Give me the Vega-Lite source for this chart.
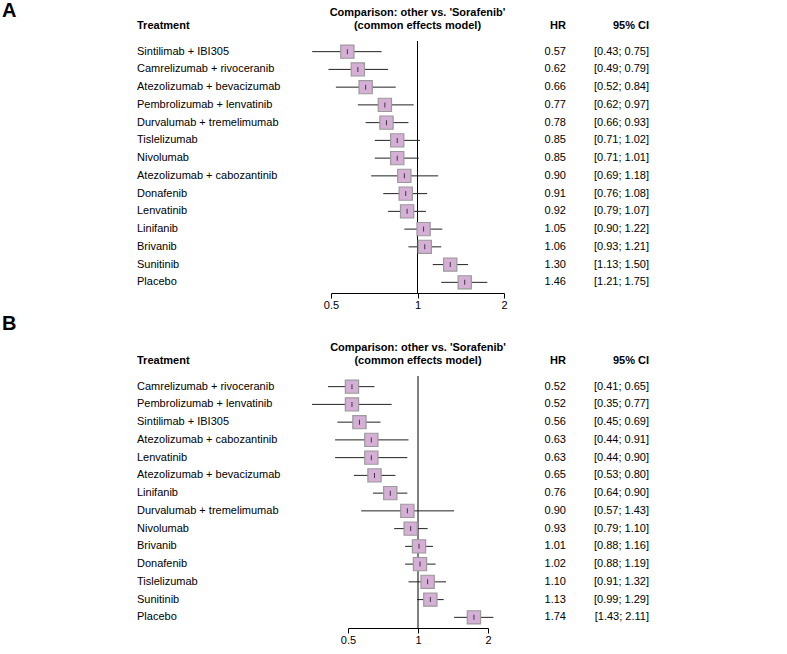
{
  "$schema": "https://vega.github.io/schema/vega-lite/v6.json",
  "padding": {"left": 2, "top": 1, "right": 0, "bottom": 0},
  "background": "white",
  "datasets": {
    "a": [
      {"trt": "Sintilimab + IBI305", "hr": 0.57, "lo": 0.43, "hi": 0.75, "ci": "[0.43; 0.75]"},
      {"trt": "Camrelizumab + rivoceranib", "hr": 0.62, "lo": 0.49, "hi": 0.79, "ci": "[0.49; 0.79]"},
      {"trt": "Atezolizumab + bevacizumab", "hr": 0.66, "lo": 0.52, "hi": 0.84, "ci": "[0.52; 0.84]"},
      {"trt": "Pembrolizumab + lenvatinib", "hr": 0.77, "lo": 0.62, "hi": 0.97, "ci": "[0.62; 0.97]"},
      {"trt": "Durvalumab + tremelimumab", "hr": 0.78, "lo": 0.66, "hi": 0.93, "ci": "[0.66; 0.93]"},
      {"trt": "Tislelizumab", "hr": 0.85, "lo": 0.71, "hi": 1.02, "ci": "[0.71; 1.02]"},
      {"trt": "Nivolumab", "hr": 0.85, "lo": 0.71, "hi": 1.01, "ci": "[0.71; 1.01]"},
      {"trt": "Atezolizumab + cabozantinib", "hr": 0.90, "lo": 0.69, "hi": 1.18, "ci": "[0.69; 1.18]"},
      {"trt": "Donafenib", "hr": 0.91, "lo": 0.76, "hi": 1.08, "ci": "[0.76; 1.08]"},
      {"trt": "Lenvatinib", "hr": 0.92, "lo": 0.79, "hi": 1.07, "ci": "[0.79; 1.07]"},
      {"trt": "Linifanib", "hr": 1.05, "lo": 0.90, "hi": 1.22, "ci": "[0.90; 1.22]"},
      {"trt": "Brivanib", "hr": 1.06, "lo": 0.93, "hi": 1.21, "ci": "[0.93; 1.21]"},
      {"trt": "Sunitinib", "hr": 1.30, "lo": 1.13, "hi": 1.50, "ci": "[1.13; 1.50]"},
      {"trt": "Placebo", "hr": 1.46, "lo": 1.21, "hi": 1.75, "ci": "[1.21; 1.75]"}
    ],
    "b": [
      {"trt": "Camrelizumab + rivoceranib", "hr": 0.52, "lo": 0.41, "hi": 0.65, "ci": "[0.41; 0.65]"},
      {"trt": "Pembrolizumab + lenvatinib", "hr": 0.52, "lo": 0.35, "hi": 0.77, "ci": "[0.35; 0.77]"},
      {"trt": "Sintilimab + IBI305", "hr": 0.56, "lo": 0.45, "hi": 0.69, "ci": "[0.45; 0.69]"},
      {"trt": "Atezolizumab + cabozantinib", "hr": 0.63, "lo": 0.44, "hi": 0.91, "ci": "[0.44; 0.91]"},
      {"trt": "Lenvatinib", "hr": 0.63, "lo": 0.44, "hi": 0.90, "ci": "[0.44; 0.90]"},
      {"trt": "Atezolizumab + bevacizumab", "hr": 0.65, "lo": 0.53, "hi": 0.80, "ci": "[0.53; 0.80]"},
      {"trt": "Linifanib", "hr": 0.76, "lo": 0.64, "hi": 0.90, "ci": "[0.64; 0.90]"},
      {"trt": "Durvalumab + tremelimumab", "hr": 0.90, "lo": 0.57, "hi": 1.43, "ci": "[0.57; 1.43]"},
      {"trt": "Nivolumab", "hr": 0.93, "lo": 0.79, "hi": 1.10, "ci": "[0.79; 1.10]"},
      {"trt": "Brivanib", "hr": 1.01, "lo": 0.88, "hi": 1.16, "ci": "[0.88; 1.16]"},
      {"trt": "Donafenib", "hr": 1.02, "lo": 0.88, "hi": 1.19, "ci": "[0.88; 1.19]"},
      {"trt": "Tislelizumab", "hr": 1.10, "lo": 0.91, "hi": 1.32, "ci": "[0.91; 1.32]"},
      {"trt": "Sunitinib", "hr": 1.13, "lo": 0.99, "hi": 1.29, "ci": "[0.99; 1.29]"},
      {"trt": "Placebo", "hr": 1.74, "lo": 1.43, "hi": 2.11, "ci": "[1.43; 2.11]"}
    ]
  },
  "spacing": 4,
  "vconcat": [
    {
      "bounds": "flush",
      "spacing": 0,
      "hconcat": [
        {
          "width": 135, "height": 252,
          "title": {"text": "A", "fontSize": 20, "offset": 20, "anchor": "start"},
          "data": {"values": [{}]},
          "mark": {"type": "point", "opacity": 0},
          "encoding": {}
        },
        {
          "width": 194, "height": 252,
          "title": {"text": "Treatment", "anchor": "start"},
          "data": {"name": "a"},
          "mark": {"type": "text", "align": "left", "baseline": "middle"},
          "encoding": {
            "y": {"field": "trt", "type": "nominal", "sort": null, "scale": {"type": "point", "padding": 0.6}, "axis": null},
            "x": {"value": 0},
            "text": {"field": "trt"}
          }
        },
        {
          "width": 173, "height": 252,
          "title": {"text": ["Comparison: other vs. 'Sorafenib'", "(common effects model)"], "anchor": "middle", "lineHeight": 13},
          "data": {"name": "a"},
          "layer": [
            {
              "data": {"values": [{}]},
              "mark": {"type": "rule", "color": "black", "strokeWidth": 1},
              "encoding": {"x": {"datum": 1, "type": "quantitative", "title": null, "scale": {"type": "log", "domain": [0.5, 2], "nice": false, "zero": false}}}
            },
            {
              "mark": {"type": "rule", "color": "#222222", "strokeWidth": 1},
              "encoding": {
                "y": {"field": "trt", "type": "nominal", "sort": null, "scale": {"type": "point", "padding": 0.6}, "axis": null},
                "x": {"field": "lo", "type": "quantitative", "title": null,
                      "axis": {"values": [0.5, 1, 2], "format": "~g", "grid": false, "tickSize": 5, "labelPadding": 1, "domainColor": "black", "tickColor": "black", "labelColor": "black", "labelFontSize": 11, "labelFont": "Liberation Sans", "labelFlush": false}},
                "x2": {"field": "hi"}
              }
            },
            {
              "mark": {"type": "square", "size": 175, "filled": true, "fill": "#d6afd6", "stroke": "#9a9a9a", "strokeWidth": 1.2, "opacity": 1},
              "encoding": {
                "y": {"field": "trt", "type": "nominal", "sort": null},
                "x": {"field": "hr", "type": "quantitative", "title": null}
              }
            },
            {
              "mark": {"type": "tick", "color": "black", "size": 5, "thickness": 1},
              "encoding": {
                "y": {"field": "trt", "type": "nominal", "sort": null},
                "x": {"field": "hr", "type": "quantitative", "title": null}
              }
            }
          ]
        },
        {
          "width": 62, "height": 252,
          "title": {"text": "HR", "anchor": "end"},
          "data": {"name": "a"},
          "mark": {"type": "text", "align": "right", "baseline": "middle"},
          "encoding": {
            "y": {"field": "trt", "type": "nominal", "sort": null, "scale": {"type": "point", "padding": 0.6}, "axis": null},
            "x": {"value": "width"},
            "text": {"field": "hr", "type": "quantitative", "format": ".2f"}
          }
        },
        {
          "width": 83, "height": 252,
          "title": {"text": "95% CI", "anchor": "end"},
          "data": {"name": "a"},
          "mark": {"type": "text", "align": "right", "baseline": "middle"},
          "encoding": {
            "y": {"field": "trt", "type": "nominal", "sort": null, "scale": {"type": "point", "padding": 0.6}, "axis": null},
            "x": {"value": "width"},
            "text": {"field": "ci"}
          }
        }
      ]
    },
    {
      "bounds": "flush",
      "spacing": 0,
      "hconcat": [
        {
          "width": 135, "height": 252,
          "title": {"text": "B", "fontSize": 20, "offset": 42, "anchor": "start"},
          "data": {"values": [{}]},
          "mark": {"type": "point", "opacity": 0},
          "encoding": {}
        },
        {
          "width": 211, "height": 252,
          "title": {"text": "Treatment", "anchor": "start"},
          "data": {"name": "b"},
          "mark": {"type": "text", "align": "left", "baseline": "middle"},
          "encoding": {
            "y": {"field": "trt", "type": "nominal", "sort": null, "scale": {"type": "point", "padding": 0.6}, "axis": null},
            "x": {"value": 0},
            "text": {"field": "trt"}
          }
        },
        {
          "width": 140, "height": 252,
          "title": {"text": ["Comparison: other vs. 'Sorafenib'", "(common effects model)"], "anchor": "middle", "lineHeight": 13},
          "data": {"name": "b"},
          "layer": [
            {
              "data": {"values": [{}]},
              "mark": {"type": "rule", "color": "black", "strokeWidth": 1},
              "encoding": {"x": {"datum": 1, "type": "quantitative", "title": null, "scale": {"type": "log", "domain": [0.5, 2], "nice": false, "zero": false}}}
            },
            {
              "mark": {"type": "rule", "color": "#222222", "strokeWidth": 1},
              "encoding": {
                "y": {"field": "trt", "type": "nominal", "sort": null, "scale": {"type": "point", "padding": 0.6}, "axis": null},
                "x": {"field": "lo", "type": "quantitative", "title": null,
                      "axis": {"values": [0.5, 1, 2], "format": "~g", "grid": false, "tickSize": 5, "labelPadding": 1, "domainColor": "black", "tickColor": "black", "labelColor": "black", "labelFontSize": 11, "labelFont": "Liberation Sans", "labelFlush": false}},
                "x2": {"field": "hi"}
              }
            },
            {
              "mark": {"type": "square", "size": 175, "filled": true, "fill": "#d6afd6", "stroke": "#9a9a9a", "strokeWidth": 1.2, "opacity": 1},
              "encoding": {
                "y": {"field": "trt", "type": "nominal", "sort": null},
                "x": {"field": "hr", "type": "quantitative", "title": null}
              }
            },
            {
              "mark": {"type": "tick", "color": "black", "size": 5, "thickness": 1},
              "encoding": {
                "y": {"field": "trt", "type": "nominal", "sort": null},
                "x": {"field": "hr", "type": "quantitative", "title": null}
              }
            }
          ]
        },
        {
          "width": 78, "height": 252,
          "title": {"text": "HR", "anchor": "end"},
          "data": {"name": "b"},
          "mark": {"type": "text", "align": "right", "baseline": "middle"},
          "encoding": {
            "y": {"field": "trt", "type": "nominal", "sort": null, "scale": {"type": "point", "padding": 0.6}, "axis": null},
            "x": {"value": "width"},
            "text": {"field": "hr", "type": "quantitative", "format": ".2f"}
          }
        },
        {
          "width": 83, "height": 252,
          "title": {"text": "95% CI", "anchor": "end"},
          "data": {"name": "b"},
          "mark": {"type": "text", "align": "right", "baseline": "middle"},
          "encoding": {
            "y": {"field": "trt", "type": "nominal", "sort": null, "scale": {"type": "point", "padding": 0.6}, "axis": null},
            "x": {"value": "width"},
            "text": {"field": "ci"}
          }
        }
      ]
    }
  ],
  "config": {
    "view": {"stroke": null},
    "font": "Liberation Sans",
    "title": {"fontSize": 11, "fontWeight": "bold", "font": "Liberation Sans", "baseline": "alphabetic", "offset": 10, "frame": "group", "color": "black"},
    "text": {"fontSize": 11, "color": "black", "font": "Liberation Sans"}
  }
}
